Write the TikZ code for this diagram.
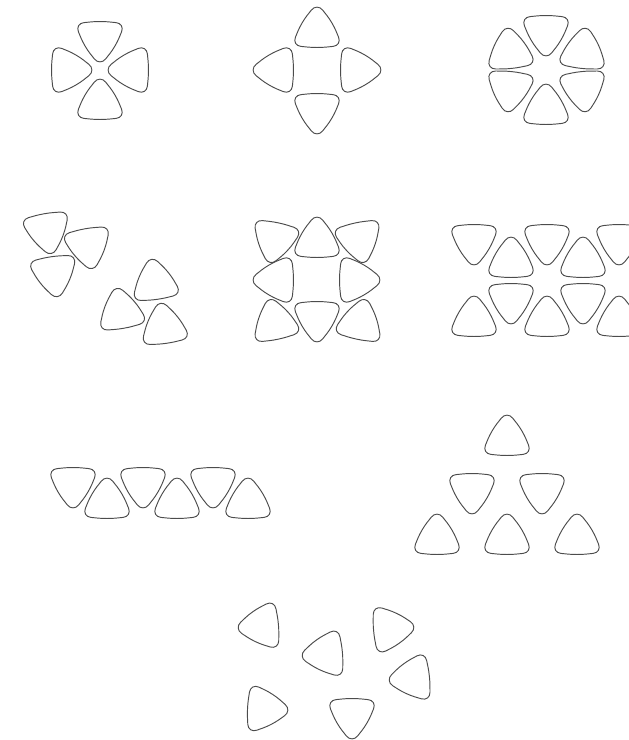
\documentclass[tikz,border=0pt]{standalone}
\usepackage{tikz}

\begin{document}
\begin{tikzpicture}[x=1pt,y=-1pt,line join=round,
  pickline/.style={draw=black!70,line width=0.95pt,rounded corners=9pt},
  pick/.pic={\draw[pickline] (0,17) -- (25,14.5) -- (15.5,-8.5) -- (0,-28) -- (-15.5,-8.5) -- (-25,14.5) -- cycle;}]
\useasboundingbox (0,0) rectangle (629,740);
\begin{scope}
\clip (0,0) rectangle (629,740);
% four pointing in
\pic[rotate=180] at (100,38) {pick};
\pic[rotate=-90] at (68,70) {pick};
\pic[rotate=90] at (132,70) {pick};
\pic at (100,103) {pick};
% four pointing out
\pic at (317,31) {pick};
\pic[rotate=90] at (277,70) {pick};
\pic[rotate=-90] at (357,70) {pick};
\pic[rotate=180] at (317,110) {pick};
% ring of six
\pic[rotate=180] at (546,32) {pick};
\pic[rotate=6] at (510,52) {pick};
\pic[rotate=-6] at (583,52) {pick};
\pic[rotate=174] at (510,88) {pick};
\pic[rotate=186] at (583,88) {pick};
\pic at (546,108) {pick};
% two groups of three
\pic[rotate=190] at (47,230) {pick};
\pic[rotate=190] at (88,245) {pick};
\pic[rotate=188] at (54,273) {pick};
\pic[rotate=8] at (155,283) {pick};
\pic[rotate=10] at (121,312) {pick};
\pic[rotate=8] at (164,327) {pick};
% square of eight
\pic[rotate=168] at (275,239) {pick};
\pic at (317,241) {pick};
\pic[rotate=192] at (359,239) {pick};
\pic[rotate=90] at (277,280) {pick};
\pic[rotate=-90] at (356,280) {pick};
\pic[rotate=12] at (275,323) {pick};
\pic[rotate=180] at (317,318) {pick};
\pic[rotate=-12] at (360,323) {pick};
% two rows, cut at the edge
\pic[rotate=180] at (474,241) {pick};
\pic at (511,261) {pick};
\pic[rotate=180] at (547,241) {pick};
\pic at (583,261) {pick};
\pic[rotate=180] at (619,241) {pick};
\pic at (474,320) {pick};
\pic[rotate=180] at (511,300) {pick};
\pic at (547,320) {pick};
\pic[rotate=180] at (583,300) {pick};
\pic at (619,320) {pick};
% one row
\pic[rotate=180] at (73,484) {pick};
\pic at (107,502) {pick};
\pic[rotate=180] at (143,484) {pick};
\pic at (177,502) {pick};
\pic[rotate=180] at (213,484) {pick};
\pic at (248,502) {pick};
% triangle of six
\pic at (507,439) {pick};
\pic[rotate=180] at (472,490) {pick};
\pic[rotate=180] at (542,490) {pick};
\pic at (437,538) {pick};
\pic at (507,538) {pick};
\pic at (577,538) {pick};
% scattered
\pic[rotate=95] at (262,626) {pick};
\pic[rotate=95] at (326,654) {pick};
\pic[rotate=-85] at (390,629) {pick};
\pic[rotate=96] at (413,678) {pick};
\pic[rotate=-93] at (264,709) {pick};
\pic[rotate=180] at (352,715) {pick};
\end{scope}
\end{tikzpicture}
\end{document}
